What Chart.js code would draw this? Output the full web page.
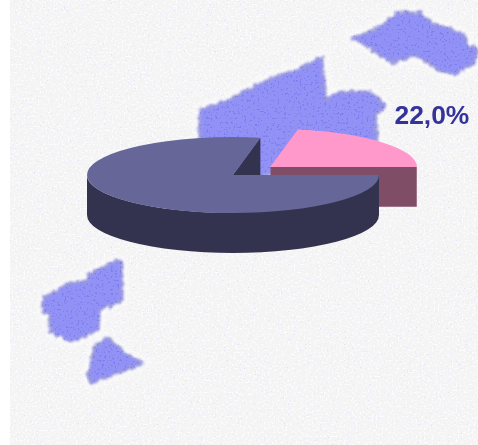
<!DOCTYPE html>
<html><head><meta charset="utf-8">
<style>
html,body{margin:0;padding:0;background:#fff;width:478px;height:445px;overflow:hidden}
svg,canvas{position:absolute;left:0;top:0;display:block}
</style>
<script src="https://cdn.jsdelivr.net/npm/chart.js@4"></script>
</head><body>
<svg width="478" height="445" viewBox="0 0 478 445" xmlns="http://www.w3.org/2000/svg" color-interpolation-filters="sRGB">
<defs>
<filter id="soft" x="-10%" y="-10%" width="120%" height="120%" color-interpolation-filters="sRGB">
<feTurbulence type="fractalNoise" baseFrequency="0.22" numOctaves="2" seed="11" result="n"/>
<feDisplacementMap in="SourceGraphic" in2="n" scale="6" xChannelSelector="R" yChannelSelector="G"/>
<feGaussianBlur stdDeviation="1"/>
</filter>
<filter id="halo" x="-10%" y="-10%" width="120%" height="120%" color-interpolation-filters="sRGB"><feGaussianBlur stdDeviation="3"/></filter>
<filter id="lilac" x="0" y="0" width="100%" height="100%" color-interpolation-filters="sRGB">
<feTurbulence type="fractalNoise" baseFrequency="0.7" numOctaves="2" seed="7"/>
<feColorMatrix type="matrix" values="0 0 0 0 0.88  0 0 0 0 0.84  0 0 0 0 1  10 0 0 0 -6.9"/>
<feComponentTransfer><feFuncA type="linear" slope="0.7"/></feComponentTransfer>
</filter>
<filter id="white" x="0" y="0" width="100%" height="100%" color-interpolation-filters="sRGB">
<feTurbulence type="fractalNoise" baseFrequency="0.5" numOctaves="2" seed="21"/>
<feColorMatrix type="matrix" values="0 0 0 0 1  0 0 0 0 1  0 0 0 0 1  0 6 0 0 -3.1"/>
<feComponentTransfer><feFuncA type="linear" slope="0.7"/></feComponentTransfer>
</filter>
<filter id="dots" x="0" y="0" width="100%" height="100%" color-interpolation-filters="sRGB">
<feTurbulence type="fractalNoise" baseFrequency="0.45" numOctaves="2" seed="4"/>
<feColorMatrix type="matrix" values="0 0 0 0 0.42  0 0 0 0 0.42  0 0 0 0 0.92  10 0 0 0 -6.0"/>
<feComponentTransfer><feFuncA type="linear" slope="0.55"/></feComponentTransfer>
</filter>
<g id="map">
<polygon points="352,38 370,32 387,22 397,13 420,13 430,23 450,28 463,35 468,45 477,48 475,62 455,75 443,72 427,62 415,55 392,63 373,50 362,43"/>
<polygon points="200,110 230,100 247,90 273,78 297,70 322,57 325,100 340,92 370,92 385,105 375,117 377,140 300,175 200,175"/>
<polygon points="43,298 70,283 87,282 88,275 117,260 122,263 122,300 100,310 98,330 72,342 50,332 50,315 43,312"/>
<polygon points="107,338 127,355 143,363 90,383 88,372 95,347"/>
</g>
<mask id="mapMask"><use href="#map" fill="#fff" stroke="#fff" stroke-width="2" filter="url(#soft)"/></mask>
</defs>
<rect x="10" y="0" width="468" height="445" fill="#f4f4f4"/>
<rect x="10" y="0" width="468" height="445" filter="url(#white)"/>
<rect x="10" y="0" width="468" height="445" filter="url(#lilac)"/>
<use href="#map" fill="#ffffff" stroke="#ffffff" stroke-width="7" filter="url(#halo)" opacity="0.8"/>
<use href="#map" fill="#9292f6" stroke="#9a9adc" stroke-width="3" stroke-linejoin="round" filter="url(#soft)"/>
<g mask="url(#mapMask)"><rect x="0" y="0" width="478" height="445" filter="url(#dots)"/></g>
</svg>
<canvas id="c" width="478" height="445"></canvas>
<script>
// Pie shares, in percent (reads 22,0% on the picture; the rest is the other slice)
const categories = ['Part', 'Reste'];
const values = [22, 78];
const valueLabels = ['22,0%', ''];
const topColors = ['#ff99cc', '#666699'];
const sideColors = ['#804d66', '#333350'];

const SQUASH = 38 / 146;
const DEPTH = 40;

function sliceShift(arc) {
  const off = (arc.options.offset || 0) / 4;
  const fix = 1 - Math.sin(Math.min(Math.PI, arc.circumference));
  const mid = (arc.startAngle + arc.endAngle) / 2;
  const d = off * (1 + fix);
  return { dx: Math.cos(mid) * d, dy: Math.sin(mid) * d * SQUASH };
}

const pie3d = {
  id: 'pie3d',
  beforeDatasetsDraw(chart) {
    const ctx = chart.ctx;
    const arcs = chart.getDatasetMeta(0).data;
    arcs.forEach((arc, i) => {
      const { dx, dy } = sliceShift(arc);
      const cx = arc.x + dx, cy = arc.y + dy, r = arc.outerRadius, ry = r * SQUASH;
      const pt = a => [cx + Math.cos(a) * r, cy + Math.sin(a) * ry];
      ctx.fillStyle = sideColors[i];
      // cut faces, extruded downward
      [arc.startAngle, arc.endAngle].forEach(a => {
        const p = pt(a);
        ctx.beginPath();
        ctx.moveTo(cx, cy);
        ctx.lineTo(p[0], p[1]);
        ctx.lineTo(p[0], p[1] + DEPTH);
        ctx.lineTo(cx, cy + DEPTH);
        ctx.closePath();
        ctx.fill();
      });
      // rim: only the front half of the ellipse can be seen
      const TAU = Math.PI * 2;
      const norm = a => ((a % TAU) + TAU) % TAU;
      const from = norm(arc.startAngle);
      const to = from + (arc.endAngle - arc.startAngle);
      for (const k of [0, 1]) {
        const lo = Math.max(from, k * TAU);
        const hi = Math.min(to, k * TAU + Math.PI);
        if (hi <= lo) continue;
        ctx.beginPath();
        ctx.ellipse(cx, cy, r, ry, 0, lo, hi);
        ctx.ellipse(cx, cy + DEPTH, r, ry, 0, hi, lo, true);
        ctx.closePath();
        ctx.fill();
      }
    });
    const a0 = arcs[0];
    ctx.save();
    ctx.translate(0, a0.y);
    ctx.scale(1, SQUASH);
    ctx.translate(0, -a0.y);
  },
  afterDatasetsDraw(chart) {
    chart.ctx.restore();
  },
  afterDraw(chart) {
    const ctx = chart.ctx;
    ctx.save();
    ctx.font = 'bold 26.4px "Liberation Sans", Arial, sans-serif';
    ctx.fillStyle = '#333399';
    ctx.textAlign = 'left';
    ctx.textBaseline = 'alphabetic';
    ctx.fillText(valueLabels[0], 394.5, 124);
    ctx.restore();
  }
};

new Chart(document.getElementById('c'), {
  type: 'pie',
  data: {
    labels: categories,
    datasets: [{
      data: values,
      backgroundColor: topColors,
      borderWidth: 0,
      offset: [192.6, 0],
      clip: false
    }]
  },
  options: {
    responsive: false,
    animation: false,
    rotation: 90 - values[0] / 100 * 360,
    radius: 146,
    layout: { autoPadding: false, padding: { left: 0, top: 0, right: 12, bottom: 95 } },
    plugins: { legend: { display: false }, tooltip: { enabled: false } }
  },
  plugins: [pie3d]
});
</script>
</body></html>
